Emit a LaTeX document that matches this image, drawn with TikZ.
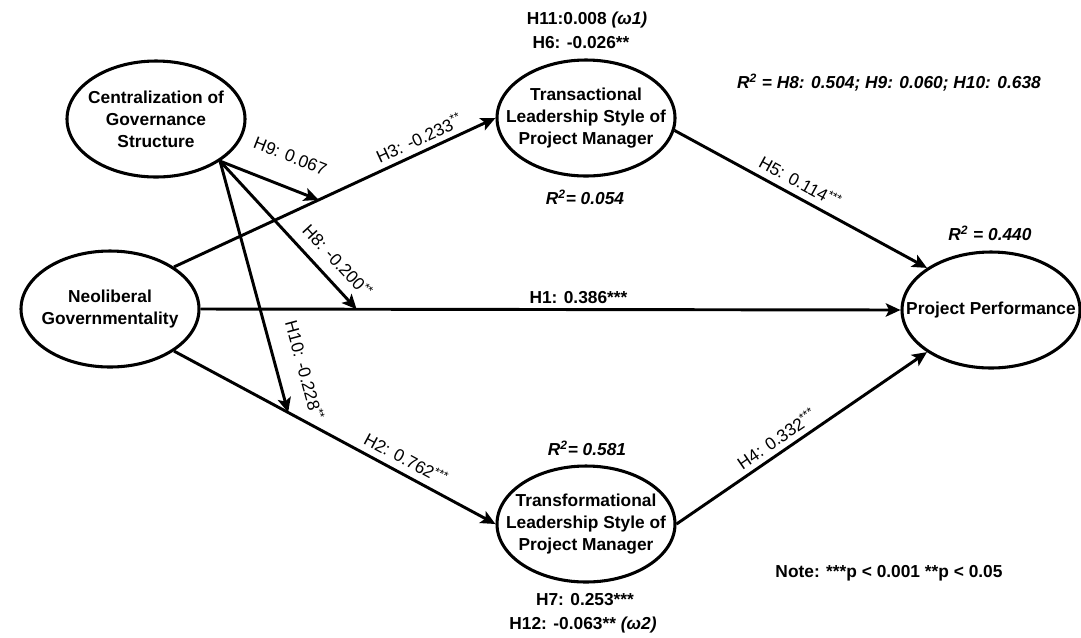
\documentclass[tikz,border=0pt]{standalone}
\usepackage{fontspec}
\setmainfont{Liberation Sans}
\usetikzlibrary{arrows.meta,shapes.geometric}

\begin{document}
\begin{tikzpicture}[
    x=0.75pt, y=-0.75pt,
    font=\fontsize{13}{16.5}\selectfont,
    latent/.style={draw, ellipse, line width=2.3pt, align=center,
                   font=\fontsize{13}{16.5}\selectfont\bfseries,
                   minimum width=133.5pt, minimum height=87pt,
                   inner xsep=-18pt, inner ysep=0pt},
    arrow/.style={-{Stealth[length=11pt, width=10pt, inset=2.5pt]}, line width=2.2pt},
    coef/.style={sloped, above, inner sep=2pt},
    note/.style={font=\fontsize{13}{16.5}\selectfont\bfseries}
]
\useasboundingbox (0,0) rectangle (1081,637);

\node[latent] (central) at (156,119) {Centralization of\\Governance\\Structure};
\node[latent] (neo) at (110,309) {Neoliberal\\Governmentality};
\node[latent] (trans) at (586,118) {Transactional\\Leadership Style of\\Project Manager};
\node[latent] (transf) at (586,524) {Transformational\\Leadership Style of\\Project Manager};
\node[latent] (pp) at (991,310) {Project Performance};

% direct paths
\draw[arrow] (neo.north east) -- coordinate[pos=0.45] (m9)
    node[coef, pos=0.78, inner sep=4pt] {H3: -0.233\textsuperscript{**}} (trans.west);
\draw[arrow] (neo.east) -- coordinate[pos=0.223] (m8)
    node[note, above, pos=0.54] {H1: 0.386***} (pp.west);
\draw[arrow] (neo.south east) -- coordinate[pos=0.355] (m10)
    node[coef, pos=0.70, inner sep=5pt] {H2: 0.762\textsuperscript{***}} (transf.west);
\draw[arrow] (trans.-8) --
    node[coef, pos=0.47, inner sep=5pt] {H5: 0.114\textsuperscript{***}} (pp.north west);
\draw[arrow] (transf.east) --
    node[coef, pos=0.43, inner sep=4pt] {H4: 0.332\textsuperscript{***}} (pp.south west);

% moderating paths
\draw[arrow] (central.south east) --
    node[coef, pos=0.6, inner sep=17pt] {H9: 0.067} (m9);
\draw[arrow] (central.south east) --
    node[coef, pos=0.76, inner sep=8pt] {H8: -0.200\textsuperscript{**}} (m8);
\draw[arrow] (central.south east) --
    node[coef, pos=0.86, inner sep=14pt] {H10: -0.228\textsuperscript{**}} (m10);

% fit values
\node[note] (h11) at (587,20) {H11:0.008 \textit{(ω1)}};
\node[note] (h6) at (581,43) {H6: -0.026**};
\node[note] (r2trans) at (585,197) {\textit{R\textsuperscript{2}= 0.054}};
\node[note] (r2mod) at (889,83) {\textit{R\textsuperscript{2} = H8: 0.504; H9: 0.060; H10: 0.638}};
\node[note] (r2pp) at (990,233) {\textit{R\textsuperscript{2} = 0.440}};
\node[note] (r2transf) at (587,448) {\textit{R\textsuperscript{2}= 0.581}};
\node[note] (h7) at (585,600) {H7: 0.253***};
\node[note] (h12) at (583,625) {H12: -0.063** \textit{(ω2)}};
\node[note] (pnote) at (889,573) {Note: ***p < 0.001 **p < 0.05};
\end{tikzpicture}
\end{document}
